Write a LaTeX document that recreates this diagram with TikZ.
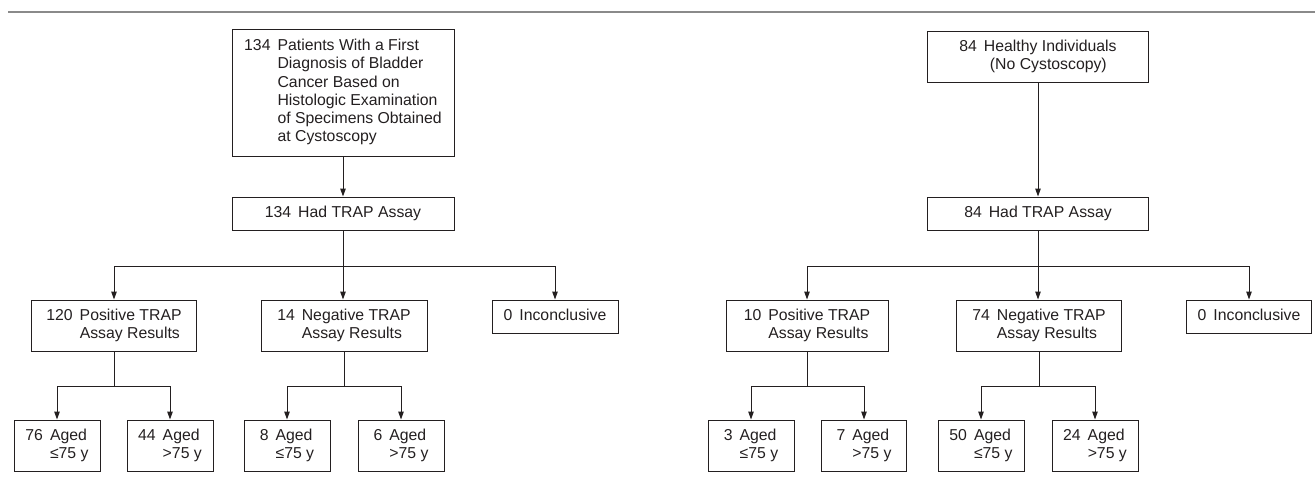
\documentclass[tikz,border=0pt]{standalone}
\usepackage{fontspec}
\setmainfont{Liberation Sans}
\usetikzlibrary{arrows.meta,positioning}
\definecolor{inkmain}{HTML}{231F20}
\definecolor{rulegray}{HTML}{8A8A8A}
\tikzset{every node/.append style={font=\fontsize{15.8}{18.3}\selectfont,text=inkmain}}
\tikzset{box/.style 2 args={draw=inkmain,line width=1pt,inner sep=0pt,minimum width=#1pt,minimum height=#2pt}}
\newcommand{\entry}[2]{\begin{tabular}{@{}l@{\hspace{7pt}}l@{}}#1&#2\end{tabular}}

\begin{document}
\begin{tikzpicture}[x=1pt,y=-1pt,>={Triangle[length=8pt,width=5.5pt]},line width=1pt,draw=inkmain]
\useasboundingbox (0,0) rectangle (1315,482);
\draw[rulegray,line width=1.6pt] (8,12)--(1315,12);
% bladder cancer patients
\node[box={222}{127}] (topL) at (343,92.5) {\entry{134}{Patients With a First\\&Diagnosis of Bladder\\&Cancer Based on\\&Histologic Examination\\&of Specimens Obtained\\&at Cystoscopy}};
\node[box={222}{33}] (trapL) at (343,213.5) {\entry{134}{Had TRAP Assay}};
\node[box={165}{51}] (posL) at (114,325.5) {\entry{120}{Positive TRAP\\&Assay Results}};
\node[box={166}{51}] (negL) at (344,325.5) {\entry{14}{Negative TRAP\\&Assay Results}};
\node[box={126}{33}] (incL) at (555,316.5) {\entry{0}{Inconclusive}};
\node[box={86}{51}] (a1) at (57,445.5) {\entry{76}{Aged\\&≤75 y}};
\node[box={86}{51}] (a2) at (170,445.5) {\entry{44}{Aged\\&>75 y}};
\node[box={86}{51}] (a3) at (287,445.5) {\entry{8}{Aged\\&≤75 y}};
\node[box={86}{51}] (a4) at (401,445.5) {\entry{6}{Aged\\&>75 y}};
\draw[->] (topL)--(trapL);
\draw (trapL.south)--++(0,36) coordinate (forkL);
\draw[->] (forkL)-|(posL.north);
\draw[->] (forkL)--(forkL|-negL.north);
\draw[->] (forkL)-|(incL.north);
\draw (posL.south)--++(0,35) coordinate (posLj);
\draw[->] (posLj)-|(a1.north);
\draw[->] (posLj)-|(a2.north);
\draw (negL.south)--++(0,35) coordinate (negLj);
\draw[->] (negLj)-|(a3.north);
\draw[->] (negLj)-|(a4.north);
% healthy individuals
\node[box={221}{51}] (topR) at (1038,56.5) {\entry{84}{Healthy Individuals\\&\hspace{6pt}(No Cystoscopy)}};
\node[box={221}{33}] (trapR) at (1038,213.5) {\entry{84}{Had TRAP Assay}};
\node[box={162}{51}] (posR) at (807,325.5) {\entry{10}{Positive TRAP\\&Assay Results}};
\node[box={165}{51}] (negR) at (1039,325.5) {\entry{74}{Negative TRAP\\&Assay Results}};
\node[box={125}{33}] (incR) at (1249,316.5) {\entry{0}{Inconclusive}};
\node[box={86}{51}] (b1) at (751,445.5) {\entry{3}{Aged\\&≤75 y}};
\node[box={85}{51}] (b2) at (864,445.5) {\entry{7}{Aged\\&>75 y}};
\node[box={86}{51}] (b3) at (981,445.5) {\entry{50}{Aged\\&≤75 y}};
\node[box={86}{51}] (b4) at (1095,445.5) {\entry{24}{Aged\\&>75 y}};
\draw[->] (topR)--(trapR);
\draw (trapR.south)--++(0,36) coordinate (forkR);
\draw[->] (forkR)-|(posR.north);
\draw[->] (forkR)--(forkR|-negR.north);
\draw[->] (forkR)-|(incR.north);
\draw (posR.south)--++(0,35) coordinate (posRj);
\draw[->] (posRj)-|(b1.north);
\draw[->] (posRj)-|(b2.north);
\draw (negR.south)--++(0,35) coordinate (negRj);
\draw[->] (negRj)-|(b3.north);
\draw[->] (negRj)-|(b4.north);
\end{tikzpicture}
\end{document}
